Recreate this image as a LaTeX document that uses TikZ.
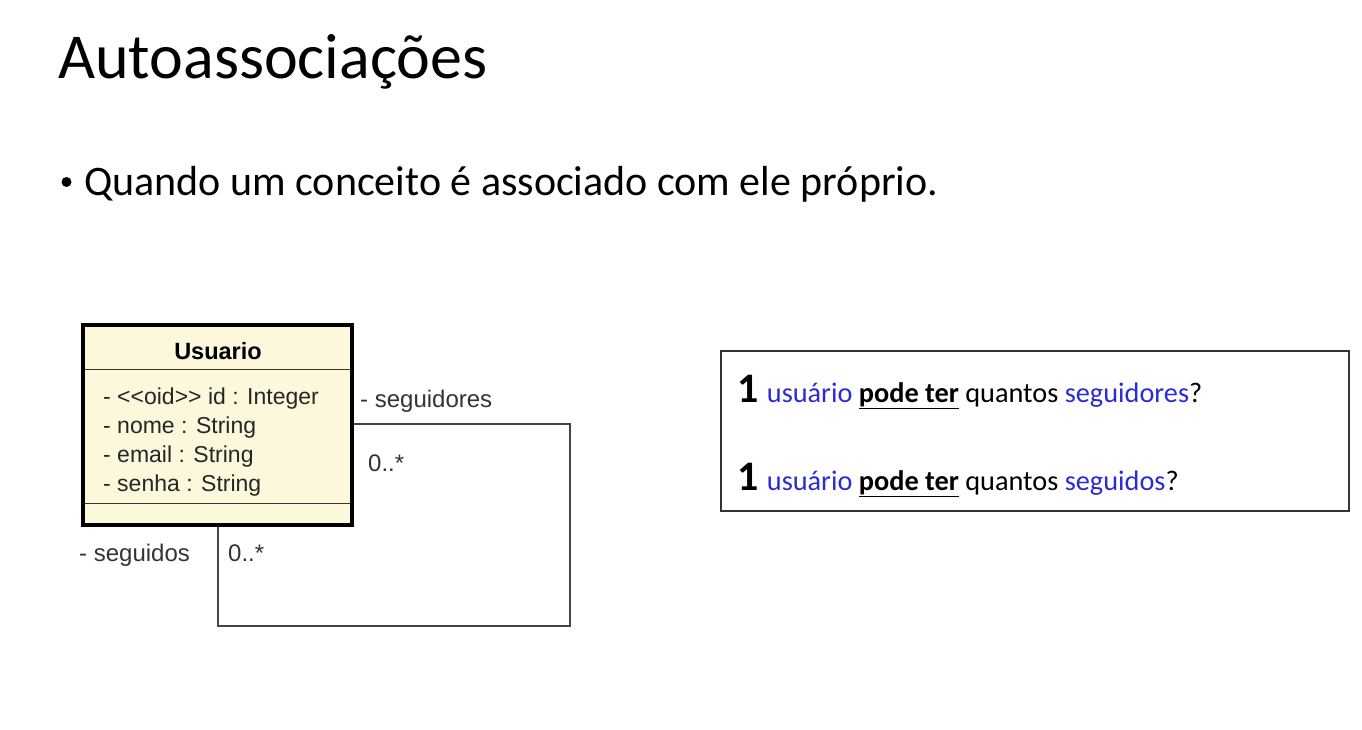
\documentclass[tikz,border=0pt]{standalone}
\usepackage{fontspec}
\setmainfont{Carlito}
\newfontfamily\arial{Liberation Sans}
\definecolor{umlfill}{HTML}{FBF8DC}
\definecolor{linegray}{HTML}{444444}
\definecolor{qblue}{HTML}{2B2BD6}
\tikzset{
  attr/.style={anchor=base west, inner sep=0pt, font=\arial\fontsize{23}{26}\selectfont, text=black!85},
  rolelbl/.style={anchor=base west, inner sep=0pt, font=\arial\fontsize{24}{26}\selectfont, text=black!80},
  assoc/.style={draw=linegray, line width=1.8pt},
  qline/.style={anchor=base west, inner sep=0pt, font=\fontsize{28.3}{30}\selectfont}
}
\begin{document}
\begin{tikzpicture}[x=1pt,y=-1pt]
\useasboundingbox (0,0) rectangle (1362,729);
% title
\node[anchor=base west, inner sep=0pt, font=\fontsize{64}{70}\selectfont] (title) at (58,78) {Autoassociações};
\node[anchor=base west, inner sep=0pt, font=\fontsize{42}{46}\selectfont] (bullet) at (84,195) {Quando um conceito é associado com ele próprio.};
\fill (66.5,182) circle (5pt);
% UML class
\fill[umlfill] (83,325) rectangle (352,525);
\node[inner sep=0pt, font=\arial\bfseries\fontsize{23.5}{26}\selectfont] (cname) at (218,351) {Usuario};
\draw[line width=1pt, black!80] (83,369) -- (352,369);
\draw[line width=1pt, black!80] (83,503) -- (352,503);
\node[attr] (a1) at (103,404) {- <<oid>> id : Integer};
\node[attr] (a2) at (103,433) {- nome : String};
\node[attr] (a3) at (103,462) {- email : String};
\node[attr] (a4) at (103,491) {- senha : String};
\draw[line width=3.5pt] (83,325) rectangle (352,525);
% association loop
\coordinate (p1) at (354,424);
\coordinate (p2) at (570,424);
\coordinate (p3) at (570,626);
\coordinate (p4) at (218,626);
\coordinate (p5) at (218,527);
\draw[assoc] (p1) -- (p2) -- (p3) -- (p4) -- (p5);
\node[rolelbl] (r1) at (360,407) {- seguidores};
\node[rolelbl] (m1) at (368,471) {0..*};
\node[rolelbl] (r2) at (79,561) {- seguidos};
\node[rolelbl] (m2) at (228,561) {0..*};
% question box
\draw[line width=1.2pt, black!80] (721,351) rectangle (1349,511);
\node[qline] (q1) at (737,402) {{\bfseries\fontsize{42}{42}\selectfont 1}\hspace{2pt} \textcolor{qblue}{usuário} \textbf{\underline{pode ter}} quantos \textcolor{qblue}{seguidores}?};
\node[qline] (q2) at (737,490) {{\bfseries\fontsize{42}{42}\selectfont 1}\hspace{2pt} \textcolor{qblue}{usuário} \textbf{\underline{pode ter}} quantos \textcolor{qblue}{seguidos}?};
\end{tikzpicture}
\end{document}
